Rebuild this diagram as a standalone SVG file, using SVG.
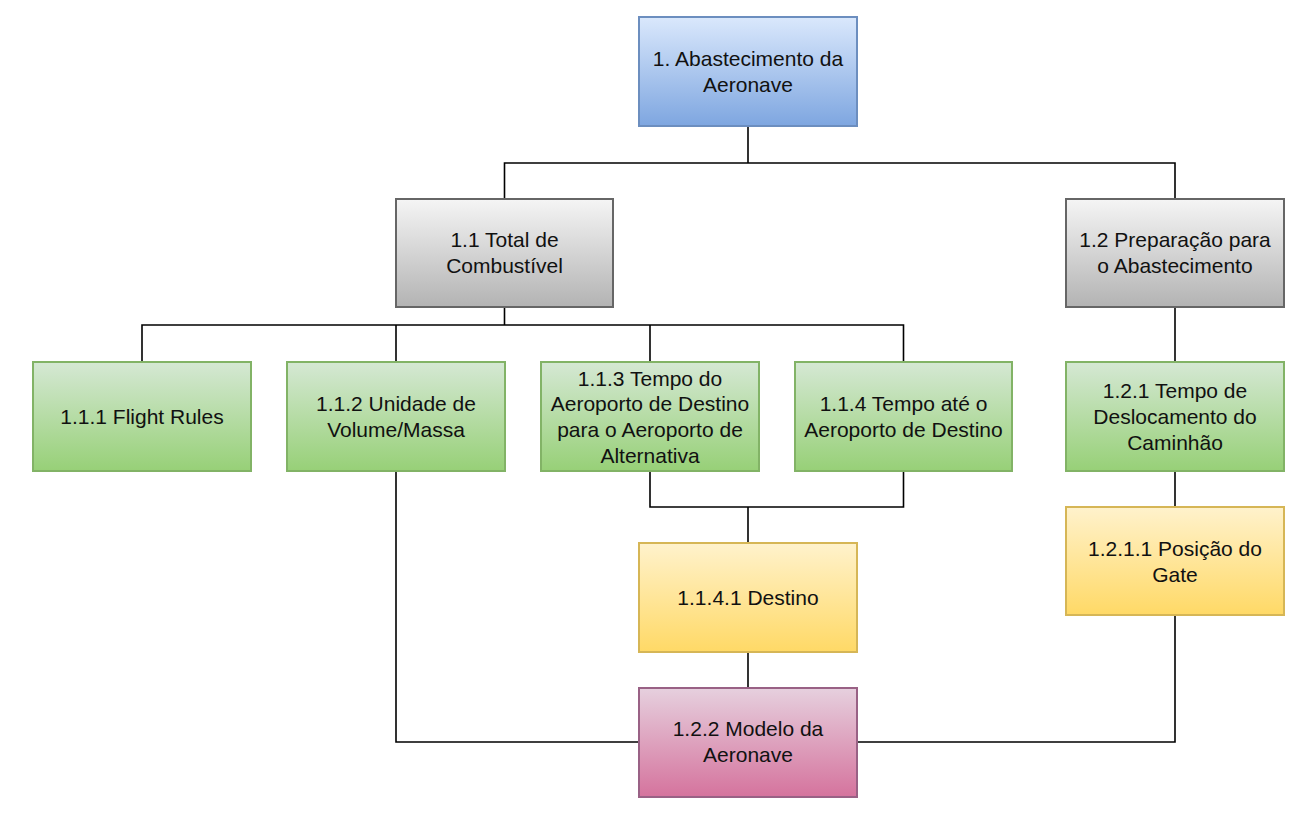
<svg xmlns="http://www.w3.org/2000/svg" width="1310" height="813" viewBox="0 0 1310 813">
<defs>
<linearGradient id="gBlue" x1="0" y1="0" x2="0" y2="1"><stop offset="0" stop-color="#dae8fc"/><stop offset="1" stop-color="#7ea6e0"/></linearGradient>
<linearGradient id="gGray" x1="0" y1="0" x2="0" y2="1"><stop offset="0" stop-color="#f5f5f5"/><stop offset="1" stop-color="#b3b3b3"/></linearGradient>
<linearGradient id="gGreen" x1="0" y1="0" x2="0" y2="1"><stop offset="0" stop-color="#d5e8d4"/><stop offset="1" stop-color="#97d077"/></linearGradient>
<linearGradient id="gYellow" x1="0" y1="0" x2="0" y2="1"><stop offset="0" stop-color="#fff2cc"/><stop offset="1" stop-color="#ffd966"/></linearGradient>
<linearGradient id="gPink" x1="0" y1="0" x2="0" y2="1"><stop offset="0" stop-color="#e6d0de"/><stop offset="1" stop-color="#d5739d"/></linearGradient>
</defs>
<style>
.blue{fill:url(#gBlue);stroke:#6c8ebf;stroke-width:2}
.gray{fill:url(#gGray);stroke:#666666;stroke-width:2}
.green{fill:url(#gGreen);stroke:#82b366;stroke-width:2}
.yellow{fill:url(#gYellow);stroke:#d6b656;stroke-width:2}
.pink{fill:url(#gPink);stroke:#996185;stroke-width:2}
text{font-family:"Liberation Sans",Arial,Helvetica,sans-serif;font-size:21px;fill:#111111;text-anchor:middle}
.conn path{fill:none;stroke:#000000;stroke-width:1.6}
</style>
<rect width="1310" height="813" fill="#ffffff"/>
<g class="conn" id="connectors">
<path d="M748 126 V163 M504.5 199 V163 H1175 V199"/>
<path d="M504.5 307 V325 M142 362 V325 H903.5 V362 M396 325 V362 M650 325 V362"/>
<path d="M1175 307 V362"/>
<path d="M1175 471 V507"/>
<path d="M650 471 V507 H903.5 V471 M748 507 V543"/>
<path d="M748 652 V688"/>
<path d="M396 471 V742 H639"/>
<path d="M1175 615 V742 H857"/>
</g>
<g id="n1"><rect class="blue" x="639" y="17" width="218" height="109"/><text x="748" y="66">1. Abastecimento da</text><text x="748" y="92">Aeronave</text></g>
<g id="n1_1"><rect class="gray" x="396" y="199" width="217" height="108"/><text x="504.5" y="247">1.1 Total de</text><text x="504.5" y="273">Combustível</text></g>
<g id="n1_2"><rect class="gray" x="1066" y="199" width="218" height="108"/><text x="1175" y="247">1.2 Preparação para</text><text x="1175" y="273">o Abastecimento</text></g>
<g id="n1_1_1"><rect class="green" x="33" y="362" width="218" height="109"/><text x="142" y="424">1.1.1 Flight Rules</text></g>
<g id="n1_1_2"><rect class="green" x="287" y="362" width="218" height="109"/><text x="396" y="411">1.1.2 Unidade de</text><text x="396" y="437">Volume/Massa</text></g>
<g id="n1_1_3"><rect class="green" x="541" y="362" width="218" height="109"/><text x="650" y="385.5">1.1.3 Tempo do</text><text x="650" y="411">Aeroporto de Destino</text><text x="650" y="437">para o Aeroporto de</text><text x="650" y="462.5">Alternativa</text></g>
<g id="n1_1_4"><rect class="green" x="795" y="362" width="217" height="109"/><text x="903.5" y="411">1.1.4 Tempo até o</text><text x="903.5" y="437">Aeroporto de Destino</text></g>
<g id="n1_2_1"><rect class="green" x="1066" y="362" width="218" height="109"/><text x="1175" y="398">1.2.1 Tempo de</text><text x="1175" y="424">Deslocamento do</text><text x="1175" y="450">Caminhão</text></g>
<g id="n1_1_4_1"><rect class="yellow" x="639" y="543" width="218" height="109"/><text x="748" y="605">1.1.4.1 Destino</text></g>
<g id="n1_2_1_1"><rect class="yellow" x="1066" y="507" width="218" height="108"/><text x="1175" y="556">1.2.1.1 Posição do</text><text x="1175" y="582">Gate</text></g>
<g id="n1_2_2"><rect class="pink" x="639" y="688" width="218" height="109"/><text x="748" y="736">1.2.2 Modelo da</text><text x="748" y="762">Aeronave</text></g>
</svg>
